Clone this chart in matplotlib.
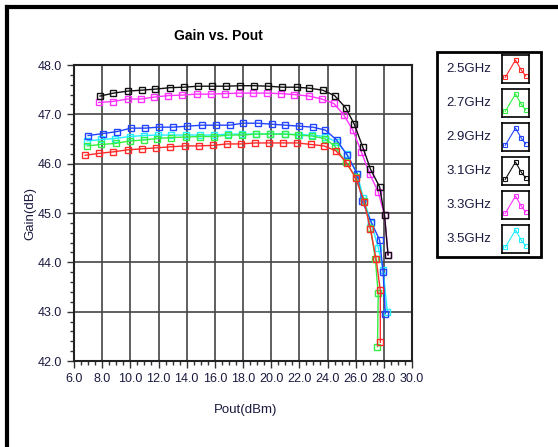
import matplotlib
matplotlib.use('Agg')
import matplotlib.pyplot as plt
from matplotlib.patches import Rectangle
from matplotlib.lines import Line2D
from matplotlib.ticker import MultipleLocator

plt.rcParams['font.family'] = ['Liberation Sans', 'DejaVu Sans']

# Pout (dBm) / Gain (dB) per frequency
freqs = ['2.5GHz', '2.7GHz', '2.9GHz', '3.1GHz', '3.3GHz', '3.5GHz']

pout_25 = [6.8, 7.8, 8.8, 9.8, 10.8, 11.8, 12.8, 13.85, 14.85, 15.85, 16.85, 17.85, 18.85,
           19.85, 20.85, 21.85, 22.8, 23.75, 24.6, 25.35, 26.0, 26.6, 27.05, 27.45, 27.75, 27.75]
gain_25 = [46.17, 46.21, 46.24, 46.28, 46.30, 46.32, 46.34, 46.36, 46.36, 46.37, 46.40, 46.40, 46.42,
           46.42, 46.42, 46.42, 46.39, 46.36, 46.26, 46.02, 45.71, 45.23, 44.67, 44.07, 43.43, 42.38]

pout_27 = [6.95, 7.95, 8.95, 9.95, 10.95, 11.9, 12.9, 13.95, 14.95, 15.95, 16.95, 17.95, 18.95,
           19.95, 20.95, 21.9, 22.9, 23.8, 24.5, 25.3, 26.0, 26.6, 27.05, 27.4, 27.6, 27.55]
gain_27 = [46.36, 46.39, 46.41, 46.46, 46.48, 46.51, 46.53, 46.54, 46.55, 46.55, 46.58, 46.58, 46.60,
           46.60, 46.60, 46.58, 46.56, 46.51, 46.36, 46.03, 45.73, 45.25, 44.70, 44.06, 43.37, 42.29]

pout_29 = [7.0, 8.05, 9.05, 10.05, 11.05, 12.0, 13.05, 14.05, 15.1, 16.05, 17.05, 18.0, 19.05,
           20.05, 21.0, 22.0, 22.95, 23.85, 24.65, 25.4, 26.1, 26.45, 27.1, 27.7, 27.95, 28.1]
gain_29 = [46.57, 46.61, 46.65, 46.72, 46.72, 46.74, 46.74, 46.76, 46.78, 46.78, 46.78, 46.82, 46.82,
           46.80, 46.78, 46.76, 46.74, 46.68, 46.48, 46.17, 45.80, 45.25, 44.82, 44.45, 43.81, 42.96]

pout_31 = [7.85, 8.8, 9.8, 10.8, 11.75, 12.8, 13.8, 14.8, 15.8, 16.8, 17.8, 18.8, 19.8,
           20.8, 21.8, 22.7, 23.65, 24.5, 25.3, 25.9, 26.5, 27.05, 27.7, 28.05, 28.3]
gain_31 = [47.37, 47.43, 47.47, 47.49, 47.51, 47.54, 47.55, 47.57, 47.57, 47.57, 47.58, 47.58, 47.57,
           47.55, 47.55, 47.53, 47.49, 47.38, 47.13, 46.80, 46.34, 45.89, 45.53, 44.95, 44.15]

pout_33 = [7.75, 8.75, 9.8, 10.75, 11.7, 12.7, 13.7, 14.7, 15.7, 16.7, 17.7, 18.7, 19.7,
           20.7, 21.65, 22.7, 23.6, 24.45, 25.15, 25.8, 26.4, 27.0, 27.6, 28.05, 28.3]
gain_33 = [47.24, 47.26, 47.31, 47.31, 47.35, 47.38, 47.39, 47.41, 47.41, 47.42, 47.43, 47.43, 47.43,
           47.42, 47.40, 47.37, 47.31, 47.22, 46.99, 46.68, 46.24, 45.79, 45.43, 44.95, 44.15]

pout_35 = [6.95, 7.95, 8.9, 9.95, 10.95, 11.95, 12.9, 13.95, 14.95, 15.95, 16.95, 17.95, 18.95,
           19.95, 20.95, 21.95, 22.9, 23.8, 24.65, 25.4, 26.1, 26.55, 27.1, 27.6, 27.95, 28.25]
gain_35 = [46.46, 46.49, 46.51, 46.55, 46.57, 46.58, 46.58, 46.58, 46.58, 46.58, 46.60, 46.60, 46.60,
           46.60, 46.60, 46.59, 46.58, 46.55, 46.44, 46.19, 45.80, 45.30, 44.80, 44.30, 43.85, 43.00]

pouts = [pout_25, pout_27, pout_29, pout_31, pout_33, pout_35]
gains = [gain_25, gain_27, gain_29, gain_31, gain_33, gain_35]
colors = ['#ff2a2a', '#33ee44', '#2244ff', '#111111', '#ff33ff', '#22eeff']

W, H = 558, 447
fig = plt.figure(figsize=(W / 100, H / 100), dpi=100)

# moldura externa (so topo e lado esquerdo aparecem)
fig.lines.append(Line2D([7 / W, 7 / W], [0, 1 - 7 / H], transform=fig.transFigure,
                        color='black', lw=3))
fig.lines.append(Line2D([7 / W, 1], [1 - 7 / H, 1 - 7 / H], transform=fig.transFigure,
                        color='black', lw=3))

ax = fig.add_axes([74 / W, 1 - 361 / H, (412 - 74) / W, (361 - 65) / H])
# ordem de desenho: ciano atras
order = [5, 2, 1, 0, 4, 3]
for i in order:
    ax.plot(pouts[i], gains[i], '-s', color=colors[i], lw=1.0, ms=5,
            mfc='none', mew=1.0, zorder=3 + order.index(i))

ax.set_xlim(6, 30)
ax.set_ylim(42, 48)
ax.xaxis.set_major_locator(MultipleLocator(2))
ax.xaxis.set_minor_locator(MultipleLocator(0.5))
ax.yaxis.set_major_locator(MultipleLocator(1))
ax.yaxis.set_minor_locator(MultipleLocator(0.2))
ax.xaxis.set_major_formatter(plt.FormatStrFormatter('%.1f'))
ax.yaxis.set_major_formatter(plt.FormatStrFormatter('%.1f'))
ax.grid(True, which='major', color='#444444', lw=1.2)
ax.tick_params(which='both', direction='out', color='#333333', labelsize=9,
               labelcolor='#1a1a40')
ax.tick_params(which='major', length=5, width=1)
ax.tick_params(which='minor', length=3, width=1)
for s in ax.spines.values():
    s.set_linewidth(1.5)
    s.set_color('#222222')

fig.text(218 / W, 1 - 36 / H, 'Gain vs. Pout', ha='center', va='center',
         fontsize=10, fontweight='bold')
fig.text(246 / W, 1 - 410 / H, 'Pout(dBm)', ha='center', va='center',
         fontsize=9.5, color='#1a1a40')
fig.text(30 / W, 1 - 213 / H, 'Gain(dB)', ha='center', va='center',
         rotation=90, fontsize=9.5, color='#1a1a40')

# legenda desenhada a mao
fig.patches.append(Rectangle((437 / W, 1 - 257 / H), (541 - 437) / W, (257 - 52) / H,
                             transform=fig.transFigure, fill=False, lw=2, ec='black'))
for k, name in enumerate(freqs):
    cy = 69 + 34 * k
    fig.text(491 / W, 1 - cy / H, name, ha='right', va='center', fontsize=9.5,
             color='#1a1a40')
    iax = fig.add_axes([502 / W, 1 - (cy + 14) / H, 27 / W, 28 / H])
    iax.plot([0.12, 0.5, 0.72, 0.88], [0.2, 0.82, 0.45, 0.25], '-s', color=colors[k],
             lw=0.8, ms=3, mfc='none', mew=0.8)
    iax.set_xlim(0, 1)
    iax.set_ylim(0, 1)
    iax.set_xticks([])
    iax.set_yticks([])
    for s in iax.spines.values():
        s.set_linewidth(1.2)

fig.savefig('out.png', dpi=100)
